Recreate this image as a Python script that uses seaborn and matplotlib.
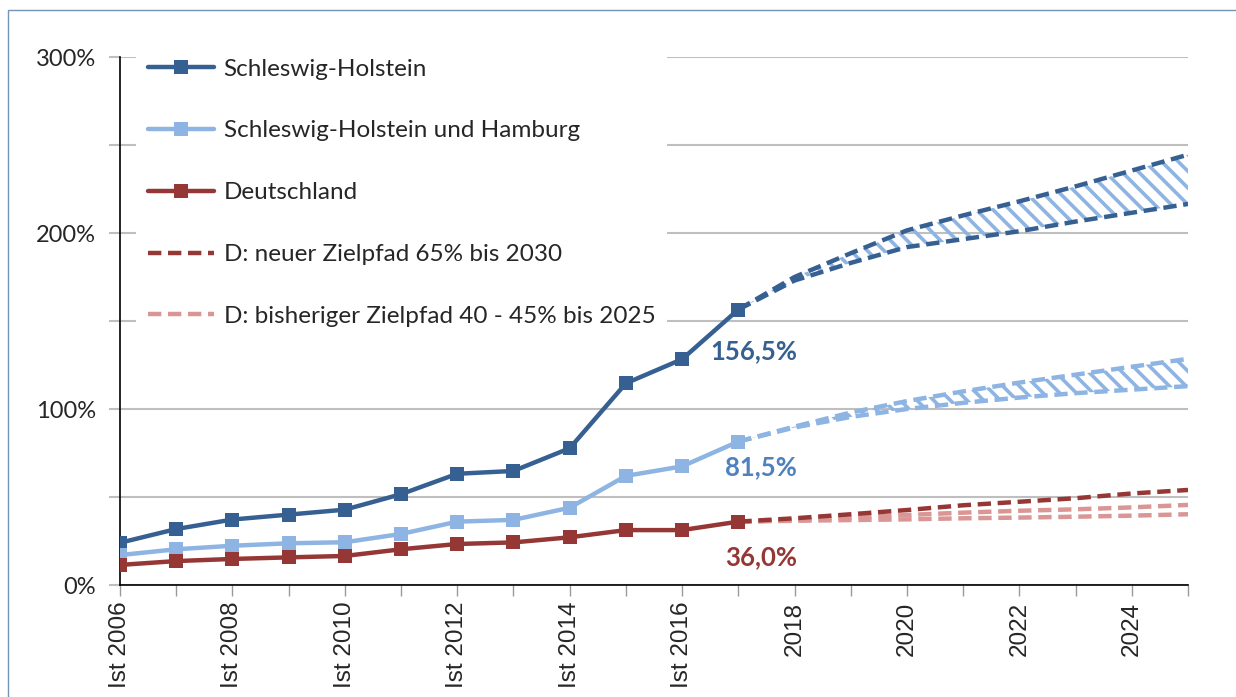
import numpy as np
import matplotlib
matplotlib.use("Agg")
import matplotlib.pyplot as plt
import seaborn as sns
from matplotlib.patches import Rectangle
from matplotlib.lines import Line2D

# historical values (Ist), share in %
years_ist = [2006, 2007, 2008, 2009, 2010, 2011, 2012, 2013, 2014, 2015, 2016, 2017]
sh = [24.0, 31.8, 37.2, 40.0, 42.8, 51.6, 63.2, 64.8, 77.7, 114.6, 128.3, 156.5]
sh_hh = [17.0, 20.3, 22.3, 23.7, 24.3, 29.0, 36.0, 37.0, 43.9, 62.0, 67.4, 81.5]
de = [11.4, 13.6, 14.8, 15.7, 16.5, 20.3, 23.3, 24.2, 27.1, 31.2, 31.2, 36.0]

# projections 2017-2025
years_proj = [2017, 2018, 2019, 2020, 2021, 2022, 2023, 2024, 2025]
sh_proj_hi = [156.5, 175.0, 188.5, 201.5, 210.0, 218.0, 226.5, 235.5, 244.5]
sh_proj_lo = [156.5, 173.0, 183.0, 192.0, 196.5, 201.0, 206.5, 211.5, 216.5]
shhh_proj_hi = [81.5, 90.0, 98.0, 104.5, 110.0, 115.0, 119.5, 124.0, 128.5]
shhh_proj_lo = [81.5, 89.5, 95.5, 100.0, 103.5, 106.5, 109.0, 111.0, 113.0]
de_neu = [36.0, 37.9, 40.2, 42.6, 45.3, 47.3, 49.3, 52.0, 54.0]
de_alt_hi = [36.0, 36.9, 38.3, 39.8, 41.1, 42.2, 43.0, 44.1, 45.5]
de_alt_lo = [36.0, 36.5, 36.9, 37.3, 37.9, 38.3, 38.8, 39.4, 40.2]

labels = ["Schleswig-Holstein", "Schleswig-Holstein und Hamburg", "Deutschland",
          "D: neuer Zielpfad 65% bis 2030", "D: bisheriger Zielpfad 40 - 45% bis 2025"]
end_labels = ["156,5%", "81,5%", "36,0%"]
xtick_years = list(range(2006, 2026))
xtick_labels = ["Ist 2006", "", "Ist 2008", "", "Ist 2010", "", "Ist 2012", "", "Ist 2014", "",
                "Ist 2016", "", "2018", "", "2020", "", "2022", "", "2024", ""]
ytick_vals = [0, 50, 100, 150, 200, 250, 300]
ytick_labels = ["0%", "", "100%", "", "200%", "", "300%"]

c_sh = "#376092"
c_shhh = "#8DB4E2"
c_de = "#953735"
c_pink = "#D99694"
c_lbl_shhh = "#4F81BD"

sns.set_style("white")
plt.rcParams["font.family"] = ["Lato", "DejaVu Sans"]
plt.rcParams["hatch.linewidth"] = 2.6

fig = plt.figure(figsize=(12.36, 6.97), dpi=100)
ax = fig.add_axes([120 / 1236, 1 - 585 / 697, 1068 / 1236, 528 / 697])

# outer frame (open to the right and bottom)
fig.patches.append(Rectangle((8 / 1236, -0.1), 1.2, 1.1 - 10 / 697,
                             transform=fig.transFigure, fill=False,
                             edgecolor="#7393B8", linewidth=1.0, zorder=0))

lw = 3.2
ms = 10.2
dash = (0, (3.0, 1.5))

# projections
sns.lineplot(x=years_proj, y=de_alt_hi, ax=ax, color=c_pink, linewidth=lw, linestyle=dash, zorder=2)
sns.lineplot(x=years_proj, y=de_alt_lo, ax=ax, color=c_pink, linewidth=lw, linestyle=dash, zorder=2)
sns.lineplot(x=years_proj, y=de_neu, ax=ax, color=c_de, linewidth=lw, linestyle=dash, zorder=3)

ax.fill_between(years_proj, sh_proj_lo, sh_proj_hi, facecolor="none", edgecolor=c_shhh,
                hatch="\\\\", linewidth=0, zorder=1)
ax.fill_between(years_proj, shhh_proj_lo, shhh_proj_hi, facecolor="none", edgecolor=c_shhh,
                hatch="\\\\", linewidth=0, zorder=1)
for vals, col in [(sh_proj_hi, c_sh), (sh_proj_lo, c_sh), (shhh_proj_hi, c_shhh), (shhh_proj_lo, c_shhh)]:
    sns.lineplot(x=years_proj, y=vals, ax=ax, color=col, linewidth=lw, linestyle=dash, zorder=3)

# historical series
for vals, col in [(sh, c_sh), (sh_hh, c_shhh), (de, c_de)]:
    sns.lineplot(x=years_ist, y=vals, ax=ax, color=col, linewidth=lw, marker="s",
                 markersize=ms, markeredgewidth=0, markeredgecolor=col, zorder=4)

# end labels
ax.text(2018.05, 133, end_labels[0], color=c_sh, fontsize=18.5, fontweight="bold", ha="right", va="center")
ax.text(2018.05, 67, end_labels[1], color=c_lbl_shhh, fontsize=18.5, fontweight="bold", ha="right", va="center")
ax.text(2018.05, 16, end_labels[2], color=c_de, fontsize=18.5, fontweight="bold", ha="right", va="center")

ax.set_xlim(2006, 2025)
ax.set_ylim(0, 300)
ax.set_xticks(xtick_years)
ax.set_xticklabels(xtick_labels, rotation=90, fontsize=17.5, family=["Liberation Sans", "DejaVu Sans"])
ax.set_yticks(ytick_vals)
ax.set_yticklabels(ytick_labels, fontsize=17)
ax.tick_params(axis="x", length=8, width=1, color="#999999", pad=4, bottom=True)
ax.tick_params(axis="y", length=8, width=1.5, color="#BFBFBF", pad=9.5, left=True)
ax.yaxis.grid(True, color="#BFBFBF", linewidth=1.5)
ax.xaxis.grid(False)
ax.set_axisbelow(True)
ax.set_xlabel("")
ax.set_ylabel("")
for s in ["top", "right"]:
    ax.spines[s].set_visible(False)
for s in ["left", "bottom"]:
    ax.spines[s].set_color("black")
    ax.spines[s].set_linewidth(1.2)

# legend
handles = [
    Line2D([], [], color=c_sh, linewidth=lw, marker="s", markersize=ms, markeredgewidth=0),
    Line2D([], [], color=c_shhh, linewidth=lw, marker="s", markersize=ms, markeredgewidth=0),
    Line2D([], [], color=c_de, linewidth=lw, marker="s", markersize=ms, markeredgewidth=0),
    Line2D([], [], color=c_de, linewidth=lw, linestyle=dash),
    Line2D([], [], color=c_pink, linewidth=lw, linestyle=dash),
]
leg = ax.legend(handles, labels, loc="upper left", bbox_to_anchor=(0.015, 1.02), frameon=True,
                fontsize=17.5, handlelength=2.7, handletextpad=0.4, labelspacing=1.68,
                borderpad=0.5, borderaxespad=0, fancybox=False, numpoints=1)
leg.get_frame().set_facecolor("white")
leg.get_frame().set_edgecolor("none")
leg.get_frame().set_alpha(1)
leg.set_zorder(5)

fig.savefig("out.png", dpi=100)
